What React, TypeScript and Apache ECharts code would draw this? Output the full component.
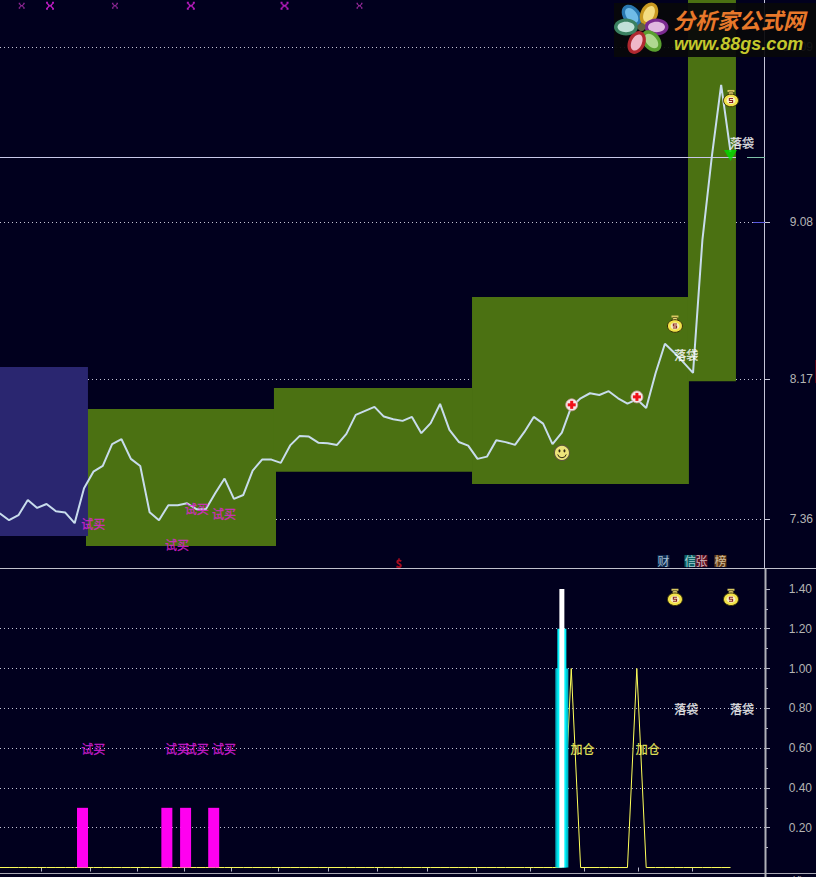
import React, { useEffect, useRef } from "react";
import * as echarts from "echarts";

// ---- data ----
const closePrice = [
  7.392, 7.352, 7.381, 7.469, 7.423, 7.446, 7.404, 7.396, 7.335, 7.537,
  7.633, 7.666, 7.792, 7.821, 7.707, 7.666, 7.398, 7.352, 7.439, 7.439,
  7.45, 7.416, 7.416, 7.508, 7.593, 7.475, 7.498, 7.639, 7.703, 7.703,
  7.684, 7.785, 7.839, 7.836, 7.801, 7.798, 7.788, 7.852, 7.962, 7.985,
  8.008, 7.952, 7.937, 7.927, 7.95, 7.856, 7.914, 8.025, 7.875, 7.805,
  7.784, 7.707, 7.72, 7.815, 7.804, 7.788, 7.863, 7.95, 7.911, 7.792,
  7.859, 8.008, 8.058, 8.087, 8.077, 8.099, 8.058, 8.027, 8.052, 8.002,
  8.203, 8.374, 8.322, 8.264, 8.205, 8.975, 9.455, 9.872, 9.484,
];
const addPositionIdx = [61, 68];
const addPositionLine = closePrice.map((_, i) => (addPositionIdx.includes(i) ? 1 : 0));

const greenStart = [9.21, 29.27, 50.41, 73.46];
const greenEnd = [29.49, 50.41, 73.56, 78.58];
const greenLow = [7.203, 7.632, 7.562, 8.156];
const greenHigh = [7.996, 8.118, 8.645, 10.4];
const blueStart = [0.03];
const blueEnd = [9.42];
const blueLow = [7.261];
const blueHigh = [8.239];

const lastPrice = 9.452;
const priceTicks = [7.36, 8.17, 9.08, 10.09];
const indicatorTicks = [0.2, 0.4, 0.6, 0.8, 1.0, 1.2, 1.4];
const indicatorMinorTicks = [0.1, 0.3, 0.5, 0.7, 0.9, 1.1, 1.3];
const indicatorGrid = [0.2, 0.4, 0.6, 0.8, 1.0, 1.2];
const dateTicks = [4.48, 9.64, 14.71, 19.67, 24.69, 29.73, 35.07, 40.3, 45.63, 50.86, 56.63, 62.36, 68.12, 73.88];

const trialBarIdx = [9, 18, 20, 23];
const trialBarValue = [0.3, 0.3, 0.3, 0.3];
const surgeIdx = [60];
const surgeWide = [1.0];
const surgeMid = [1.2];
const surgeTop = [1.4];

const trialX = [8.66, 17.6, 19.7, 22.6];
const trialPriceY = [7.33, 7.209, 7.417, 7.388];
const trialLowerY = [0.6, 0.6, 0.6, 0.6];
const bagTextX = [71.95, 77.9];
const bagTextPriceY = [8.313, 9.54];
const bagTextLowerY = [0.8, 0.8];
const addTextX = [60.88, 67.82];
const addTextY = [0.6, 0.6];

const bagX = [72.07, 78.05];
const bagPriceY = [8.488, 9.794];
const bagLowerY = [1.358, 1.358];
const crossX = [61.05, 68.01];
const crossY = [8.02, 8.066];
const smileX = [60.01];
const smileY = [7.742];
const triangleX = [78];
const triangleY = [9.464];
const strongX = [5.37, 20.4, 30.4];
const faintX = [2.35, 12.3, 38.4];
const crossMarkY = 10.33;

const FONT_CJK = "'Noto Sans CJK SC', sans-serif";
const FONT_NUM = "'Liberation Sans', Arial, sans-serif";
const BG = "#01001E";

const X_MIN = 0.032;
const X_MAX = 81.68;
const LOWER_MIN = -0.0275;
const LOWER_MAX = 1.5;

const textSeries = (name: string, xs: number[], ys: number[], text: string, color: string, axis: number, extra: any = {}) => ({
  type: "scatter",
  name,
  xAxisIndex: axis,
  yAxisIndex: axis,
  symbolSize: 1,
  itemStyle: { color: "transparent" },
  z: 8,
  silent: true,
  data: xs.map((x, i) => [x, ys[i]]),
  label: { show: true, position: "right", distance: 0, formatter: text, color, fontFamily: FONT_CJK, fontSize: 12, textBorderColor: color, textBorderWidth: 0.3, ...extra },
});

const blockSeries = (name: string, s: number[], e: number[], lo: number[], hi: number[], fill: string, z: number) => ({
  type: "custom",
  name,
  xAxisIndex: 0,
  yAxisIndex: 0,
  z,
  silent: true,
  data: s.map((v, i) => [v, e[i], lo[i], hi[i]]),
  encode: { x: [0, 1], y: [2, 3] },
  renderItem: (_: any, api: any) => {
    const a = api.coord([api.value(0), api.value(3)]);
    const b = api.coord([api.value(1), api.value(2)]);
    return { type: "rect", shape: { x: a[0], y: a[1], width: b[0] - a[0], height: b[1] - a[1] }, style: { fill } };
  },
});

const bagIcon = (x: number, y: number) => ({
  type: "group",
  x,
  y,
  children: [
    { type: "rect", shape: { x: -3.5, y: -8.5, width: 7, height: 2 }, style: { fill: "#d8c860" } },
    { type: "polygon", shape: { points: [[-2, -6.5], [2, -6.5], [3, -3], [-3, -3]] }, style: { fill: "#e8d870", stroke: "#403810", lineWidth: 0.6 } },
    { type: "ellipse", shape: { cx: 0, cy: 2, rx: 7.5, ry: 6.3 }, style: { fill: "#f2e24a", stroke: "#3a3208", lineWidth: 1 } },
    { type: "ellipse", shape: { cx: 0, cy: 2, rx: 4.4, ry: 3.6 }, style: { fill: "#f6efc0" } },
    { type: "polyline", shape: { points: [[2, 0], [-1.6, 0], [-1.6, 2], [1.6, 2], [1.6, 4], [-2, 4]] }, style: { stroke: "#8a2020", fill: "none", lineWidth: 1.1 } },
  ],
});

const crossIcon = (x: number, y: number) => ({
  type: "group",
  x,
  y,
  children: [
    { type: "circle", shape: { cx: 0, cy: 0, r: 6 }, style: { fill: "#f4e8e8", stroke: "#c8a0a0", lineWidth: 0.8 } },
    { type: "rect", shape: { x: -4, y: -1.5, width: 8, height: 3 }, style: { fill: "#f01018" } },
    { type: "rect", shape: { x: -1.5, y: -4, width: 3, height: 8 }, style: { fill: "#f01018" } },
  ],
});

const smileIcon = (x: number, y: number) => ({
  type: "group",
  x,
  y,
  children: [
    { type: "circle", shape: { cx: 0, cy: 0, r: 7.6 }, style: { fill: "#ece47a", stroke: "#5c5838", lineWidth: 1.2 } },
    { type: "ellipse", shape: { cx: -2.5, cy: -2, rx: 1, ry: 1.6 }, style: { fill: "#302810" } },
    { type: "ellipse", shape: { cx: 2.5, cy: -2, rx: 1, ry: 1.6 }, style: { fill: "#302810" } },
    { type: "arc", shape: { cx: 0, cy: 0.5, r: 4.4, startAngle: 0.25, endAngle: Math.PI - 0.25 }, style: { stroke: "#302810", fill: "none", lineWidth: 1 } },
  ],
});

const iconSeries = (name: string, xs: number[], ys: number[], icon: (x: number, y: number) => any, axis: number) => ({
  type: "custom",
  name,
  xAxisIndex: axis,
  yAxisIndex: axis,
  z: 7,
  silent: true,
  clip: false,
  data: xs.map((x, i) => [x, ys[i]]),
  renderItem: (_: any, api: any) => {
    const p = api.coord([api.value(0), api.value(1)]);
    return icon(p[0], p[1]);
  },
});

const barOn = (name: string, axis: number, xs: number[], ys: number[], width: number, color: string, z: number) => ({
  type: "bar",
  name,
  xAxisIndex: axis,
  yAxisIndex: 1,
  barWidth: width,
  z,
  silent: true,
  itemStyle: { color },
  data: xs.map((x, i) => [x, ys[i]]),
});

const hiddenX = (grid: number, min: number, max: number) => ({ type: "value", gridIndex: grid, min, max, show: false });

const petal = (cx: number, cy: number, rot: number, outer: string, inner: string) => ({
  type: "group",
  x: cx,
  y: cy,
  rotation: rot,
  children: [
    { type: "ellipse", shape: { cx: 0, cy: 0, rx: 12, ry: 8.5 }, style: { fill: outer } },
    { type: "ellipse", shape: { cx: 0, cy: 0, rx: 8.5, ry: 5.2 }, style: { fill: inner } },
  ],
});

const withZ = (el: any, z: number): any =>
  el.children ? { ...el, children: el.children.map((c: any) => withZ(c, z)) } : { ...el, z };

const hline = (x1: number, x2: number, y: number, stroke: string, lineWidth = 1) => ({
  type: "line",
  z: 50,
  silent: true,
  shape: { x1, y1: y, x2, y2: y },
  style: { stroke, lineWidth },
});
const vline = (x: number, y1: number, y2: number, stroke: string, lineWidth = 1) => ({
  type: "line",
  z: 50,
  silent: true,
  shape: { x1: x, y1, x2: x, y2 },
  style: { stroke, lineWidth },
});

export default function App() {
  const ref = useRef<HTMLDivElement>(null);
  useEffect(() => {
    document.body.style.margin = "0";
    document.body.style.background = BG;
    document.body.style.overflow = "hidden";
    const chart = echarts.init(ref.current!, undefined, { renderer: "svg" });
    const dotted = { color: "#c4c4d4", type: [1, 3] as any, width: 1 };
    const logo = withZ(
      {
        type: "group",
        silent: true,
        children: [
          { type: "rect", shape: { x: 614, y: 3, width: 202, height: 54 }, style: { fill: "rgba(8,8,10,0.93)" } },
          petal(631.7, 15.5, -Math.PI * 0.29, "#2a78b0", "#70bce8"),
          petal(649, 14, Math.PI * 0.36, "#c89820", "#f4dc80"),
          petal(656.5, 27, 0, "#7a2a90", "#e0b8e0"),
          petal(651.5, 41, -Math.PI * 0.28, "#5aa030", "#b0d890"),
          petal(636.7, 42.5, Math.PI * 0.36, "#b02830", "#f0b8c8"),
          petal(626, 27, 0, "#3a8060", "#c0e0d8"),
          { type: "circle", shape: { cx: 641.5, cy: 27, r: 4 }, style: { fill: "#606040" } },
          {
            type: "text",
            x: 673,
            y: 8,
            style: {
              text: "分析家公式网",
              fontFamily: FONT_CJK,
              fontSize: 22,
              fontWeight: "bold",
              fontStyle: "italic",
              fill: "#E8782A",
            },
          },
          {
            type: "text",
            x: 674,
            y: 35,
            style: {
              text: "www.88gs.com",
              fontFamily: FONT_NUM,
              fontSize: 18,
              fontWeight: "bold",
              fontStyle: "italic",
              fill: "#c4c82c",
            },
          },
        ],
      },
      100
    );
    const option: any = {
      animation: false,
      backgroundColor: BG,
      grid: [
        { left: 0, top: 0, width: 765, height: 567, containLabel: false, outerBoundsMode: "none" },
        { left: 0, top: 569, width: 765, height: 304, containLabel: false, outerBoundsMode: "none" },
      ],
      xAxis: [
        hiddenX(0, X_MIN, X_MAX),
        {
          type: "value",
          gridIndex: 1,
          min: X_MIN,
          max: X_MAX,
          position: "bottom",
          splitLine: { show: false },
          axisLine: { show: false },
          axisLabel: { show: false },
          axisTick: { show: true, length: 4, lineStyle: { color: "#b8b8c8", width: 1 }, customValues: dateTicks },
        },
        hiddenX(1, X_MIN + 0.16, X_MAX + 0.16),
        hiddenX(1, X_MIN, X_MAX),
        hiddenX(1, X_MIN, X_MAX),
        hiddenX(1, X_MIN, X_MAX),
      ],
      yAxis: [
        {
          type: "value",
          gridIndex: 0,
          position: "right",
          min: 7.081,
          max: 10.364,
          splitLine: { show: false },
          axisLine: { show: false },
          axisTick: { show: true, length: 5, lineStyle: { color: "#c8c8d8" }, customValues: priceTicks },
          axisLabel: {
            show: true,
            customValues: priceTicks,
            margin: 48,
            align: "right",
            color: "#b4b4b4",
            fontFamily: FONT_NUM,
            fontSize: 12,
            formatter: (v: number) => v.toFixed(2),
          },
        },
        {
          type: "value",
          gridIndex: 1,
          position: "right",
          min: LOWER_MIN,
          max: LOWER_MAX,
          splitLine: { show: false },
          axisLine: { show: false },
          axisTick: { show: true, length: 5, lineStyle: { color: "#b8b8c8" }, customValues: indicatorTicks },
          axisLabel: {
            show: true,
            customValues: indicatorTicks,
            margin: 47,
            align: "right",
            color: "#b4b4b4",
            fontFamily: FONT_NUM,
            fontSize: 12,
            formatter: (v: number) => v.toFixed(2),
          },
        },
        {
          type: "value",
          gridIndex: 1,
          position: "right",
          min: LOWER_MIN,
          max: LOWER_MAX,
          splitLine: { show: false },
          axisLine: { show: false },
          axisLabel: { show: false },
          axisTick: { show: true, length: 3, lineStyle: { color: "#b8b8c8" }, customValues: indicatorMinorTicks },
        },
      ],
      graphic: [
        hline(0, 816, 568.5, "#c0c0cc"),
        hline(0, 816, 873.5, "#a8a8b4"),
        vline(764.5, 0, 568, "#c4c4d8"),
        vline(765.5, 569, 877, "#b0b0b8", 2),
        hline(747, 765, 157.5, "#7fc0a8"),
        hline(753, 765, 222.5, "#5a5ae0"),
        { type: "rect", z: 50, silent: true, shape: { x: 815, y: 360, width: 1, height: 23 }, style: { fill: "#500014" } },
        { type: "text", z: 50, silent: true, x: 779, y: 875, style: { text: "日线", fill: "#c8c8c8", fontFamily: FONT_CJK, fontSize: 12 } },
        logo,
      ],
      series: [
        {
          type: "line",
          name: "price grid",
          xAxisIndex: 0,
          yAxisIndex: 0,
          data: [],
          markLine: {
            silent: true,
            z: 1,
            symbol: "none",
            label: { show: false },
            lineStyle: dotted,
            data: priceTicks.map((v) => ({ yAxis: v })),
          },
        },
        {
          type: "line",
          name: "indicator grid",
          xAxisIndex: 1,
          yAxisIndex: 1,
          data: [],
          markLine: {
            silent: true,
            z: 1,
            symbol: "none",
            label: { show: false },
            lineStyle: dotted,
            data: indicatorGrid.map((v) => ({ yAxis: v })),
          },
        },
        blockSeries("green boxes", greenStart, greenEnd, greenLow, greenHigh, "#4B7112", 2),
        blockSeries("blue box", blueStart, blueEnd, blueLow, blueHigh, "#2A2670", 3),
        {
          type: "line",
          name: "last price",
          xAxisIndex: 0,
          yAxisIndex: 0,
          z: 4,
          silent: true,
          showSymbol: false,
          lineStyle: { color: "#C8C8E8", width: 1 },
          data: [[blueStart[0], lastPrice], [greenEnd[3], lastPrice]],
        },
        {
          type: "line",
          name: "close",
          xAxisIndex: 0,
          yAxisIndex: 0,
          z: 5,
          silent: true,
          showSymbol: false,
          lineStyle: { color: "#C8DCEC", width: 2 },
          data: closePrice.map((v, i) => [i, v]),
        },
        {
          type: "scatter",
          name: "sell triangle",
          xAxisIndex: 0,
          yAxisIndex: 0,
          z: 6,
          silent: true,
          symbol: "triangle",
          symbolRotate: 180,
          symbolSize: [13, 11],
          itemStyle: { color: "#00E000" },
          data: triangleX.map((x, i) => [x, triangleY[i]]),
        },
        {
          type: "scatter",
          name: "marks strong",
          xAxisIndex: 0,
          yAxisIndex: 0,
          z: 6,
          silent: true,
          symbol: "path://M0 0H2V2H3V3H5V2H6V0H8V2H7V3H6V5H7V6H8V8H6V6H5V5H3V6H2V8H0V6H1V5H2V3H1V2H0Z",
          symbolSize: 8,
          itemStyle: { color: "#E020E0" },
          data: strongX.map((x) => [x, crossMarkY]),
        },
        {
          type: "scatter",
          name: "marks faint",
          xAxisIndex: 0,
          yAxisIndex: 0,
          z: 6,
          silent: true,
          symbol: "path://M0 0H2V2H3V3H5V2H6V0H8V2H7V3H6V5H7V6H8V8H6V6H5V5H3V6H2V8H0V6H1V5H2V3H1V2H0Z",
          symbolSize: 6,
          itemStyle: { color: "#B030B0" },
          data: faintX.map((x) => [x, crossMarkY]),
        },
        iconSeries("bag top", bagX, bagPriceY, bagIcon, 0),
        iconSeries("cross", crossX, crossY, crossIcon, 0),
        iconSeries("smile", smileX, smileY, smileIcon, 0),
        textSeries("trial top", trialX, trialPriceY, "试买", "#E020D8", 0),
        textSeries("bag text top", bagTextX, bagTextPriceY, "落袋", "#FFFFFF", 0),
        textSeries("s", [42.2], [7.105], "$", "#D01020", 0, { fontWeight: "bold", fontSize: 11 }),
        textSeries("cai", [70.15], [7.116], "财", "#C8E0F0", 0, { backgroundColor: "#14345C", textBorderWidth: 0 }),
        textSeries("xin", [73.03], [7.116], "信", "#C8E8E8", 0, { backgroundColor: "#107878", textBorderWidth: 0 }),
        textSeries("zhang", [74.2], [7.116], "张", "#F0E0E0", 0, { backgroundColor: "#701020", textBorderWidth: 0 }),
        textSeries("bang", [76.23], [7.116], "榜", "#F0E0C0", 0, { backgroundColor: "#7A4A18", textBorderWidth: 0 }),
        {
          type: "line",
          name: "add position",
          xAxisIndex: 1,
          yAxisIndex: 1,
          z: 3,
          silent: true,
          showSymbol: false,
          lineStyle: { color: "#FFFF5A", width: 1 },
          data: addPositionLine.map((v, i) => [i, v]),
        },
        barOn("trial bars", 2, trialBarIdx, trialBarValue, 11, "#FF00F0", 4),
        barOn("surge wide", 3, surgeIdx, surgeWide, 13, "#00B8C8", 4),
        barOn("surge mid", 4, surgeIdx, surgeMid, 9, "#00F0F8", 5),
        barOn("surge top", 5, surgeIdx, surgeTop, 5, "#FFFFFF", 6),
        iconSeries("bag lower", bagX, bagLowerY, bagIcon, 1),
        textSeries("trial lower", trialX, trialLowerY, "试买", "#E020E0", 1),
        textSeries("bag text lower", bagTextX, bagTextLowerY, "落袋", "#FFFFFF", 1),
        textSeries("add text", addTextX, addTextY, "加仓", "#FFFF60", 1),
      ],
    };
    chart.setOption(option);
    return () => chart.dispose();
  }, []);
  return <div ref={ref} style={{ position: "absolute", left: 0, top: 0, width: 816, height: 877 }} />;
}
